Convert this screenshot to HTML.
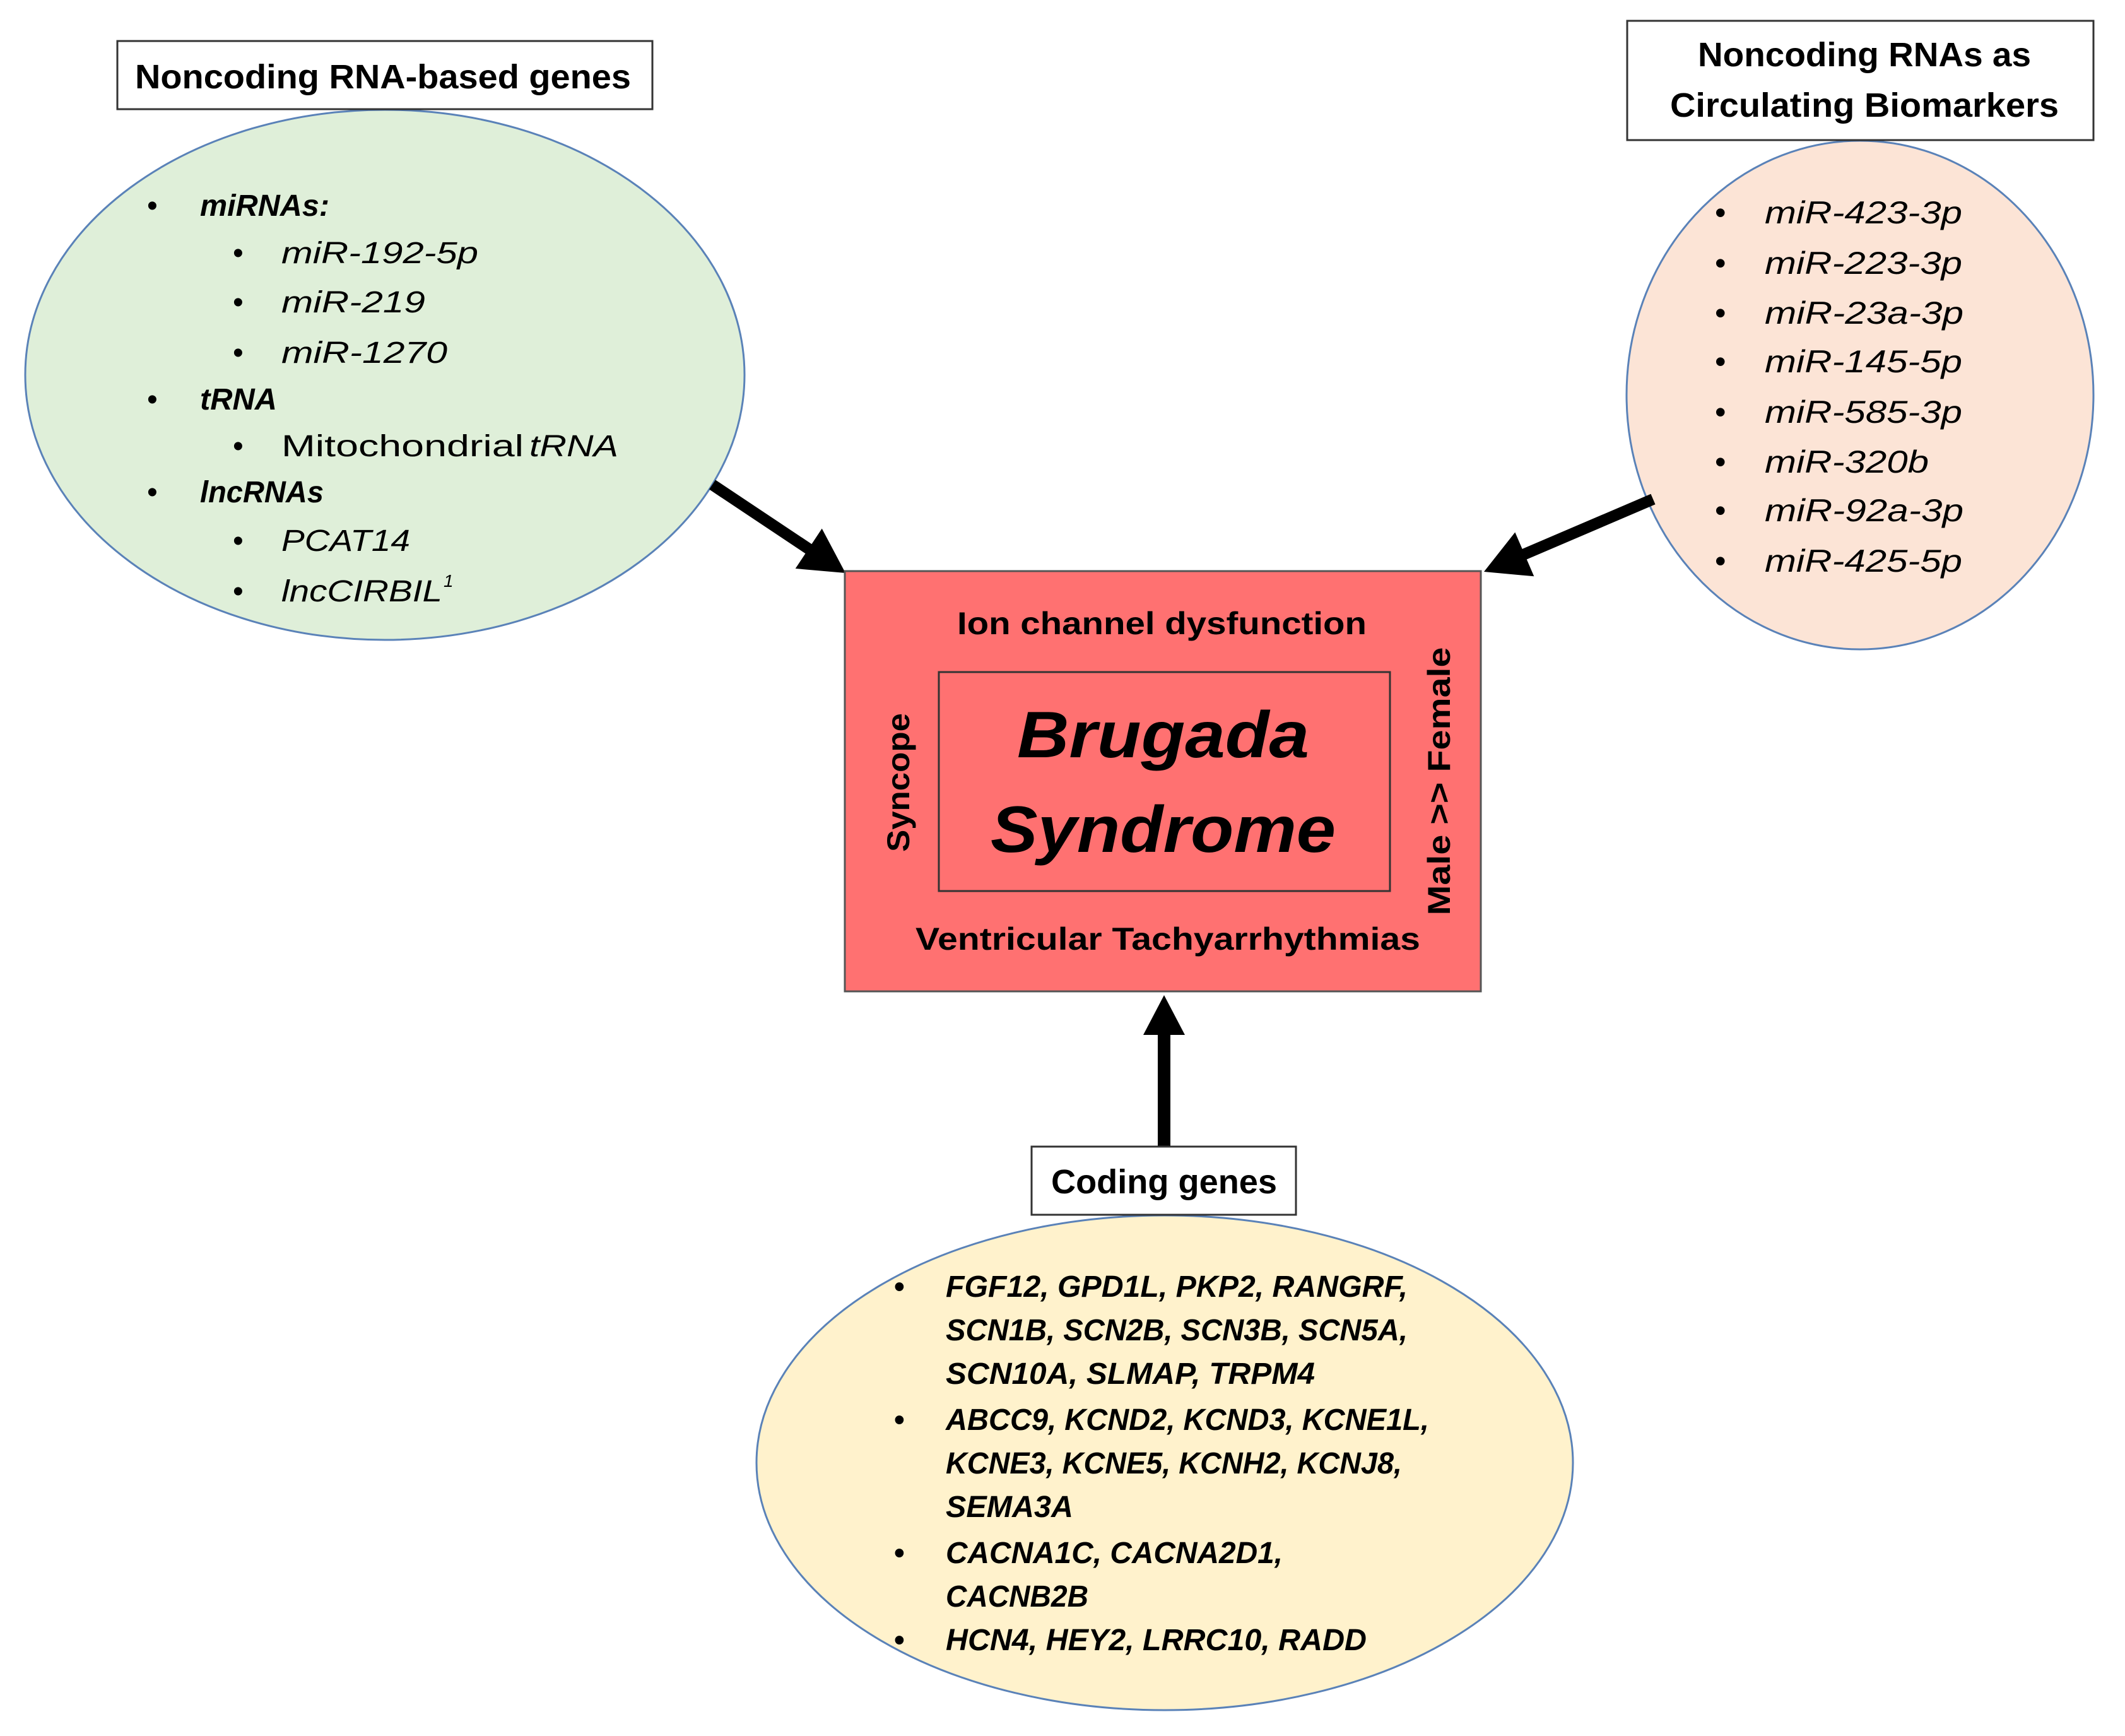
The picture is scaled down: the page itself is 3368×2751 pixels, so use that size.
<!DOCTYPE html>
<html><head><meta charset="utf-8"><style>
html,body{margin:0;padding:0;background:#fff}
svg{display:block}
text{font-family:"Liberation Sans",sans-serif;fill:#000}
.b{font-weight:bold}
.i{font-style:italic}
</style></head><body>
<svg width="3368" height="2751" viewBox="0 0 3368 2751" xmlns="http://www.w3.org/2000/svg">
<rect width="3368" height="2751" fill="#fff"/>

<!-- Left group -->
<ellipse cx="610" cy="594" rx="570" ry="420" fill="#dfefd9" stroke="#5a82b8" stroke-width="3"/>
<rect x="186" y="65" width="848" height="108" fill="#fff" stroke="#333" stroke-width="3"/>
<text x="214" y="140" font-size="54" class="b" textLength="786" lengthAdjust="spacingAndGlyphs">Noncoding RNA-based genes</text>
<g font-size="48">
<text x="233" y="342">•</text>
<text x="317" y="342" class="b i" textLength="205" lengthAdjust="spacingAndGlyphs">miRNAs:</text>
<text x="369" y="417">•</text>
<text x="446" y="417" class="i" textLength="312" lengthAdjust="spacingAndGlyphs">miR-192-5p</text>
<text x="369" y="495">•</text>
<text x="446" y="495" class="i" textLength="228" lengthAdjust="spacingAndGlyphs">miR-219</text>
<text x="369" y="575">•</text>
<text x="446" y="575" class="i" textLength="263" lengthAdjust="spacingAndGlyphs">miR-1270</text>
<text x="233" y="649">•</text>
<text x="317" y="649" class="b i" textLength="122" lengthAdjust="spacingAndGlyphs">tRNA</text>
<text x="369" y="723">•</text>
<text x="446" y="723" textLength="384" lengthAdjust="spacingAndGlyphs">Mitochondrial</text>
<text x="839" y="723" class="i" textLength="141" lengthAdjust="spacingAndGlyphs">tRNA</text>
<text x="233" y="796">•</text>
<text x="317" y="796" class="b i" textLength="196" lengthAdjust="spacingAndGlyphs">lncRNAs</text>
<text x="369" y="873">•</text>
<text x="446" y="873" class="i" textLength="204" lengthAdjust="spacingAndGlyphs">PCAT14</text>
<text x="369" y="953">•</text>
<text x="446" y="953" class="i" textLength="255" lengthAdjust="spacingAndGlyphs">lncCIRBIL</text>
<text x="703" y="930" class="i" font-size="28">1</text>
</g>

<!-- Right group -->
<ellipse cx="2948" cy="626" rx="370" ry="403" fill="#fce4d6" stroke="#5a82b8" stroke-width="3"/>
<rect x="2579" y="33" width="739" height="189" fill="#fff" stroke="#333" stroke-width="3"/>
<text x="2955" y="105" font-size="54" class="b" text-anchor="middle" textLength="528" lengthAdjust="spacingAndGlyphs">Noncoding RNAs as</text>
<text x="2955" y="185" font-size="54" class="b" text-anchor="middle" textLength="616" lengthAdjust="spacingAndGlyphs">Circulating Biomarkers</text>
<g font-size="50">
<text x="2718" y="354">•</text><text x="2797" y="354" class="i" textLength="313" lengthAdjust="spacingAndGlyphs">miR-423-3p</text>
<text x="2718" y="434">•</text><text x="2797" y="434" class="i" textLength="313" lengthAdjust="spacingAndGlyphs">miR-223-3p</text>
<text x="2718" y="513">•</text><text x="2797" y="513" class="i" textLength="315" lengthAdjust="spacingAndGlyphs">miR-23a-3p</text>
<text x="2718" y="590">•</text><text x="2797" y="590" class="i" textLength="313" lengthAdjust="spacingAndGlyphs">miR-145-5p</text>
<text x="2718" y="670">•</text><text x="2797" y="670" class="i" textLength="313" lengthAdjust="spacingAndGlyphs">miR-585-3p</text>
<text x="2718" y="749">•</text><text x="2797" y="749" class="i" textLength="260" lengthAdjust="spacingAndGlyphs">miR-320b</text>
<text x="2718" y="826">•</text><text x="2797" y="826" class="i" textLength="315" lengthAdjust="spacingAndGlyphs">miR-92a-3p</text>
<text x="2718" y="906">•</text><text x="2797" y="906" class="i" textLength="313" lengthAdjust="spacingAndGlyphs">miR-425-5p</text>
</g>

<!-- Arrows -->
<line x1="1129" y1="768" x2="1285" y2="872" stroke="#000" stroke-width="18"/>
<polygon points="1260.7,901 1302.7,837.6 1340,908" fill="#000"/>
<line x1="2620" y1="791" x2="2412" y2="880" stroke="#000" stroke-width="18"/>
<polygon points="2401.3,843.5 2431.3,913.3 2352,906" fill="#000"/>
<line x1="1845" y1="1817" x2="1845" y2="1635" stroke="#000" stroke-width="20"/>
<polygon points="1812,1640 1878,1640 1845,1577" fill="#000"/>

<!-- Center -->
<rect x="1339" y="905" width="1008" height="666" fill="#ff7171" stroke="#555" stroke-width="3"/>
<rect x="1488" y="1065" width="715" height="347" fill="none" stroke="#333" stroke-width="3"/>
<text x="1517" y="1005" font-size="50" class="b" textLength="649" lengthAdjust="spacingAndGlyphs">Ion channel dysfunction</text>
<text x="1612" y="1200" font-size="104" class="b i" textLength="463" lengthAdjust="spacingAndGlyphs">Brugada</text>
<text x="1570" y="1350" font-size="104" class="b i" textLength="547" lengthAdjust="spacingAndGlyphs">Syndrome</text>
<text x="1451" y="1505" font-size="50" class="b" textLength="800" lengthAdjust="spacingAndGlyphs">Ventricular Tachyarrhythmias</text>
<text transform="translate(1441,1240) rotate(-90)" x="0" y="0" font-size="50" class="b" text-anchor="middle" textLength="220" lengthAdjust="spacingAndGlyphs">Syncope</text>
<text transform="translate(2298,1238) rotate(-90)" x="0" y="0" font-size="50" class="b" text-anchor="middle" textLength="425" lengthAdjust="spacingAndGlyphs">Male &gt;&gt; Female</text>

<!-- Bottom group -->
<ellipse cx="1846" cy="2318" rx="647" ry="392" fill="#fff2cc" stroke="#5a82b8" stroke-width="3"/>
<rect x="1635" y="1817" width="419" height="108" fill="#fff" stroke="#333" stroke-width="3"/>
<text x="1666" y="1891" font-size="54" class="b" textLength="358" lengthAdjust="spacingAndGlyphs">Coding genes</text>
<g font-size="48" class="b i">
<text x="1417" y="2055" font-style="normal">•</text>
<text x="1499" y="2055" textLength="732" lengthAdjust="spacingAndGlyphs">FGF12, GPD1L, PKP2, RANGRF,</text>
<text x="1499" y="2124" textLength="732" lengthAdjust="spacingAndGlyphs">SCN1B, SCN2B, SCN3B, SCN5A,</text>
<text x="1499" y="2193" textLength="585" lengthAdjust="spacingAndGlyphs">SCN10A, SLMAP, TRPM4</text>
<text x="1417" y="2266" font-style="normal">•</text>
<text x="1499" y="2266" textLength="766" lengthAdjust="spacingAndGlyphs">ABCC9, KCND2, KCND3, KCNE1L,</text>
<text x="1499" y="2335" textLength="723" lengthAdjust="spacingAndGlyphs">KCNE3, KCNE5, KCNH2, KCNJ8,</text>
<text x="1499" y="2404" textLength="202" lengthAdjust="spacingAndGlyphs">SEMA3A</text>
<text x="1417" y="2477" font-style="normal">•</text>
<text x="1499" y="2477" textLength="534" lengthAdjust="spacingAndGlyphs">CACNA1C, CACNA2D1,</text>
<text x="1499" y="2546" textLength="226" lengthAdjust="spacingAndGlyphs">CACNB2B</text>
<text x="1417" y="2615" font-style="normal">•</text>
<text x="1499" y="2615" textLength="667" lengthAdjust="spacingAndGlyphs">HCN4, HEY2, LRRC10, RADD</text>
</g>
</svg>
</body></html>
